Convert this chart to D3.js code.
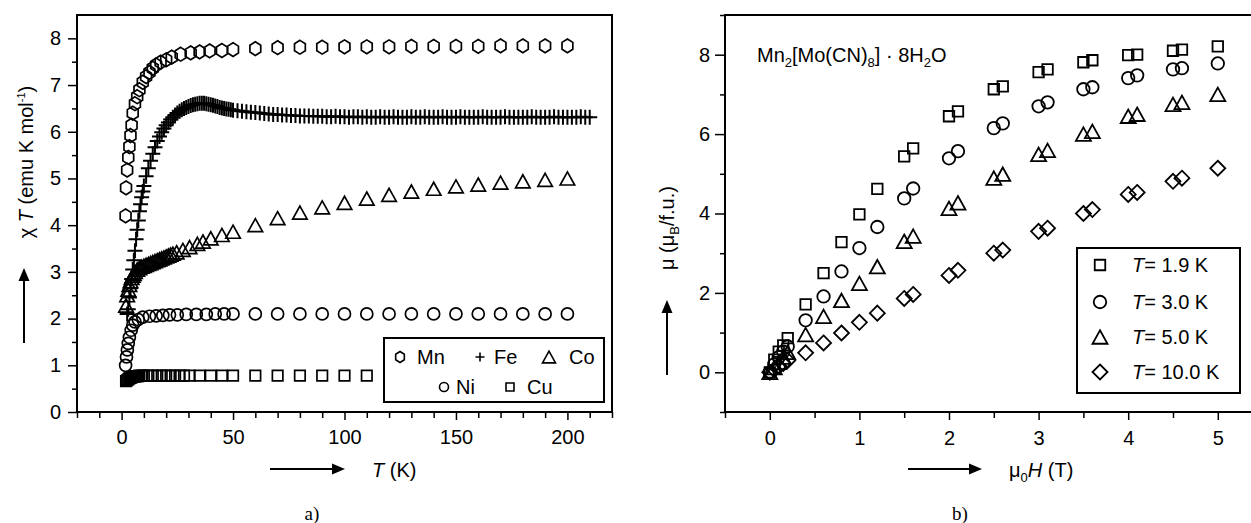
<!DOCTYPE html>
<html>
<head>
<meta charset="utf-8">
<script src="https://cdn.jsdelivr.net/npm/d3@7"></script>
<style>
body { margin: 0; background: #fff; }
svg { display: block; font-family: "Liberation Sans", Arial, sans-serif; }
.axis text { font-size: 20px; fill: #000; font-family: "Liberation Sans", Arial, sans-serif; }
.axis path { display: none; }
.axis line { stroke: #000; stroke-width: 1.5; }
.lbl { font-size: 20px; fill: #000; }
</style>
</head>
<body>
<svg id="chart" width="1251" height="523"></svg>
<script>
// ---- panel a) chi*T vs T ----
var mnT = [1.8, 2.0, 2.5, 3.0, 3.5, 4.0, 4.5, 5.0, 6, 7, 8, 9.5, 11, 12.5, 14, 15.5, 17.5, 20, 22.5, 26.5, 31, 35, 39.5, 45, 50,
           60, 70, 80, 90, 100, 110, 120, 130, 140, 150, 160, 170, 180, 190, 200];
var mnChiT = [4.2, 4.8, 5.18, 5.45, 5.68, 5.92, 6.14, 6.4, 6.6, 6.75, 6.9, 7.06, 7.18, 7.27, 7.36, 7.43, 7.49, 7.54, 7.6, 7.66, 7.69, 7.71, 7.73, 7.74, 7.76,
              7.78, 7.8, 7.81, 7.81, 7.82, 7.82, 7.82, 7.83, 7.83, 7.83, 7.83, 7.84, 7.84, 7.84, 7.84];

var feT = [2.5, 3, 3.5, 4, 4.5, 5, 5.5, 6, 6.5, 7, 7.5, 8, 8.5, 9, 9.5, 10,
           11, 12, 13, 14, 15, 16, 17, 18, 19, 20, 21, 22, 23, 24, 25, 26, 27, 28, 29, 30,
           31, 32, 33, 34, 35, 36, 37, 38, 39, 40, 41, 42, 43, 44, 45, 46, 47, 48, 49, 50,
           52, 54, 56, 58, 60, 62, 64, 66, 68, 70, 72, 74, 76, 78, 80, 82, 84, 86, 88, 90,
           92, 94, 96, 98, 100, 102, 104, 106, 108, 110, 112, 114, 116, 118, 120, 122, 124, 126, 128, 130,
           132, 134, 136, 138, 140, 142, 144, 146, 148, 150, 152, 154, 156, 158, 160, 162, 164, 166, 168, 170,
           172, 174, 176, 178, 180, 182, 184, 186, 188, 190, 192, 194, 196, 198, 200, 202, 204, 206, 208, 210];
var feChiT = [2.1, 2.2, 2.45, 2.65, 2.85, 3.05, 3.25, 3.45, 3.7, 3.9, 4.1, 4.3, 4.45, 4.6, 4.72, 4.84,
              5.05, 5.22, 5.38, 5.53, 5.67, 5.8, 5.9, 5.99, 6.07, 6.14, 6.2, 6.26, 6.31, 6.36, 6.4, 6.44, 6.47, 6.5, 6.52, 6.54,
              6.56, 6.58, 6.59, 6.6, 6.61, 6.61, 6.61, 6.6, 6.59, 6.58, 6.57, 6.55, 6.54, 6.52, 6.51, 6.5, 6.49, 6.48, 6.47, 6.46,
              6.45, 6.44, 6.43, 6.42, 6.41, 6.4, 6.39, 6.38, 6.37, 6.37, 6.36, 6.36, 6.35, 6.35, 6.34, 6.34, 6.34, 6.33, 6.33, 6.33,
              6.32, 6.32, 6.33, 6.32, 6.32, 6.31, 6.32, 6.32, 6.31, 6.32, 6.31, 6.31, 6.32, 6.31, 6.31, 6.32, 6.31, 6.31, 6.31, 6.32,
              6.31, 6.31, 6.32, 6.31, 6.31, 6.31, 6.32, 6.31, 6.31, 6.31, 6.32, 6.31, 6.31, 6.31, 6.31, 6.32, 6.31, 6.31, 6.31, 6.31,
              6.32, 6.31, 6.31, 6.31, 6.31, 6.31, 6.32, 6.31, 6.31, 6.31, 6.31, 6.32, 6.31, 6.31, 6.31, 6.31, 6.31, 6.32, 6.31, 6.31];

var coT = [2, 2.5, 3, 3.5, 4, 4.5, 5, 5.5, 6, 7, 8, 9, 10, 11, 12, 13, 14, 15, 16, 17, 18, 19, 20, 21, 22, 23,
           24.7, 27.5, 30.5, 34, 36.5, 40, 45, 50, 60, 70, 80, 90, 100, 110, 120, 130, 140, 150, 160, 170, 180, 190, 200];
var coChiT = [2.28, 2.5, 2.62, 2.72, 2.8, 2.87, 2.92, 2.96, 3.0, 3.05, 3.08, 3.11, 3.13, 3.15, 3.17, 3.19, 3.21, 3.23, 3.25, 3.27, 3.29, 3.31, 3.33, 3.35, 3.37, 3.39,
              3.42, 3.47, 3.53, 3.6, 3.65, 3.72, 3.79, 3.86, 4.0, 4.15, 4.27, 4.38, 4.48, 4.57, 4.65, 4.72, 4.78, 4.83, 4.87, 4.91, 4.94, 4.97, 5.0];

var niT = [1.8, 2.2, 2.6, 3, 3.5, 4.3, 5, 6, 7.5, 9.5, 12.5, 15.5, 18.5, 21.5, 25, 29, 33.5, 38, 42, 46, 50,
           60, 70, 80, 90, 100, 110, 120, 130, 140, 150, 160, 170, 180, 190, 200];
var niChiT = [1.0, 1.18, 1.33, 1.47, 1.6, 1.75, 1.86, 1.93, 1.98, 2.03, 2.05, 2.06, 2.07, 2.08, 2.08, 2.09, 2.09, 2.09, 2.1, 2.1, 2.1,
              2.1, 2.1, 2.1, 2.1, 2.1, 2.1, 2.1, 2.1, 2.1, 2.1, 2.1, 2.1, 2.1, 2.1, 2.1];

var cuT = [2, 2.5, 3, 3.5, 4, 4.5, 5, 5.5, 6, 6.5, 7, 7.5, 8, 9, 10, 12, 14, 16, 18, 20, 22, 24, 26, 28,
           30.5, 35, 40, 45, 50, 60, 70, 80, 90, 100, 110];
var cuChiT = [0.66, 0.68, 0.7, 0.72, 0.73, 0.74, 0.75, 0.76, 0.76, 0.77, 0.77, 0.77, 0.78, 0.78, 0.78, 0.78, 0.78, 0.78, 0.78, 0.78, 0.78, 0.78, 0.78, 0.78,
              0.78, 0.78, 0.78, 0.78, 0.78, 0.78, 0.78, 0.78, 0.78, 0.78, 0.78];

var legendA = ["Mn", "Fe", "Co", "Ni", "Cu"];

// ---- panel b) mu vs mu0H ----
var fieldH = [0, 0.05, 0.1, 0.15, 0.2, 0.4, 0.6, 0.8, 1.0, 1.2, 1.5, 1.6, 2.0, 2.1, 2.5, 2.6, 3.0, 3.1, 3.5, 3.6, 4.0, 4.1, 4.5, 4.6, 5.0];
var mu19 = [0, 0.32, 0.52, 0.68, 0.86, 1.71, 2.5, 3.28, 3.98, 4.62, 5.44, 5.64, 6.45, 6.57, 7.13, 7.2, 7.56, 7.63, 7.81, 7.86, 7.99, 8.0, 8.1, 8.13, 8.21];
var mu30 = [0, 0.2, 0.38, 0.52, 0.65, 1.31, 1.91, 2.54, 3.13, 3.66, 4.38, 4.63, 5.39, 5.57, 6.15, 6.27, 6.7, 6.8, 7.13, 7.18, 7.41, 7.48, 7.63, 7.66, 7.78];
var mu50 = [0, 0.12, 0.25, 0.38, 0.5, 0.95, 1.41, 1.81, 2.24, 2.66, 3.3, 3.43, 4.13, 4.27, 4.89, 4.99, 5.49, 5.59, 6.0, 6.07, 6.45, 6.5, 6.75, 6.8, 7.0];
var mu100 = [0, 0.07, 0.15, 0.22, 0.3, 0.49, 0.74, 0.99, 1.26, 1.49, 1.86, 1.96, 2.44, 2.57, 3.0, 3.08, 3.55, 3.63, 4.0, 4.1, 4.48, 4.53, 4.81, 4.89, 5.14];
var legendB = ["1.9", "3.0", "5.0", "10.0"];

var svg = d3.select("#chart");
svg.append("rect").attr("width", 1251).attr("height", 523).attr("fill", "#fff");

// marker shapes, centred on 0,0
function shape(type, s) {
    var r = s / 2, p = [];
    if (type === "hex") {
        for (var k = 0; k < 6; k++) {
            var a = (-90 + 60 * k) * Math.PI / 180;
            p.push([r * Math.cos(a), r * 1.1 * Math.sin(a)]);
        }
        return "M" + p.join("L") + "Z";
    }
    if (type === "cross") return "M" + (-r) + ",0H" + r + "M0," + (-r) + "V" + r;
    if (type === "tri") return "M0," + (-r * 0.9) + "L" + r + "," + (r * 0.9) + "L" + (-r) + "," + (r * 0.9) + "Z";
    if (type === "square") return "M" + (-r) + "," + (-r) + "H" + r + "V" + r + "H" + (-r) + "Z";
    if (type === "diamond") return "M0," + (-r) + "L" + r + ",0L0," + r + "L" + (-r) + ",0Z";
    return d3.arc()({ innerRadius: 0, outerRadius: r, startAngle: 0, endAngle: 2 * Math.PI });
}

function drawSeries(g, xs, ys, sx, sy, type, size, sw) {
    g.append("g").selectAll("path")
        .data(xs.map(function(x, i) { return [x, ys[i]]; }))
        .enter()
        .append("path")
        .attr("d", shape(type, size))
        .attr("transform", function(d) { return "translate(" + sx(d[0]) + "," + sy(d[1]) + ")"; })
        .attr("fill", "none")
        .attr("stroke", "#000")
        .attr("stroke-width", sw);
}

function arrow(g, x1, y1, x2, y2) {
    var ang = Math.atan2(y2 - y1, x2 - x1);
    var L = 13, W = 5.5;
    var bx = x2 - L * Math.cos(ang), by = y2 - L * Math.sin(ang);
    g.append("line").attr("x1", x1).attr("y1", y1).attr("x2", bx).attr("y2", by)
        .attr("stroke", "#000").attr("stroke-width", 2);
    g.append("path")
        .attr("d", "M" + x2 + "," + y2 +
            "L" + (bx - W * Math.sin(ang)) + "," + (by + W * Math.cos(ang)) +
            "L" + (bx + W * Math.sin(ang)) + "," + (by - W * Math.cos(ang)) + "Z")
        .attr("fill", "#000");
}

// ================= panel a =================
var xA = d3.scaleLinear().domain([-20, 220]).range([77, 612]);
var yA = d3.scaleLinear().domain([0, 8.5]).range([412, 15]);
var gA = svg.append("g");

var xAMajor = [0, 50, 100, 150, 200];
var xAMinor = d3.range(-20, 221, 10).filter(function(v) { return v % 50 !== 0; });
var yAMajor = d3.range(0, 9, 1);
var yAMinor = d3.range(0.5, 8.5, 1);

gA.append("g").attr("class", "axis").attr("transform", "translate(0,412)")
    .call(d3.axisBottom(xA).tickValues(xAMajor).tickSize(8).tickPadding(10).tickFormat(d3.format("d")));
gA.append("g").attr("class", "axis").attr("transform", "translate(0,412)")
    .call(d3.axisBottom(xA).tickValues(xAMinor).tickSize(6).tickFormat(""));
gA.append("g").attr("class", "axis").attr("transform", "translate(77,0)")
    .call(d3.axisLeft(yA).tickValues(yAMajor).tickSize(9).tickPadding(7).tickFormat(d3.format("d")));
gA.append("g").attr("class", "axis").attr("transform", "translate(77,0)")
    .call(d3.axisLeft(yA).tickValues(yAMinor).tickSize(5).tickFormat(""));
gA.append("rect").attr("x", 77).attr("y", 15).attr("width", 535).attr("height", 397)
    .attr("fill", "none").attr("stroke", "#000").attr("stroke-width", 2);

drawSeries(gA, mnT, mnChiT, xA, yA, "hex", 12.5, 1.7);
drawSeries(gA, feT, feChiT, xA, yA, "cross", 15, 2);
drawSeries(gA, coT, coChiT, xA, yA, "tri", 14.5, 1.7);
drawSeries(gA, niT, niChiT, xA, yA, "circle", 12, 1.7);
drawSeries(gA, cuT, cuChiT, xA, yA, "square", 10.5, 1.7);

// legend a
gA.append("rect").attr("x", 384).attr("y", 338).attr("width", 220).attr("height", 64)
    .attr("fill", "#fff").attr("stroke", "#000").attr("stroke-width", 2);
var legA = [
    { t: "hex", s: 10, x: 400, y: 357, tx: 417 },
    { t: "cross", s: 9, x: 480, y: 357, tx: 494 },
    { t: "tri", s: 13, x: 549, y: 357, tx: 569 },
    { t: "circle", s: 9, x: 444, y: 387, tx: 456 },
    { t: "square", s: 8, x: 510, y: 387, tx: 527 }
];
legA.forEach(function(d, i) {
    gA.append("path").attr("d", shape(d.t, d.s)).attr("transform", "translate(" + d.x + "," + d.y + ")")
        .attr("fill", "none").attr("stroke", "#000").attr("stroke-width", 1.6);
    gA.append("text").attr("class", "lbl").attr("x", d.tx).attr("y", d.y + 7).text(legendA[i]);
});

// axis titles a
var ytA = gA.append("text").attr("class", "lbl").attr("font-size", "18px").attr("text-anchor", "middle")
    .attr("transform", "translate(33,162) rotate(-90)");
ytA.append("tspan").text("\u03c7 ");
ytA.append("tspan").attr("font-style", "italic").text("T");
ytA.append("tspan").text(" (emu K mol");
ytA.append("tspan").attr("font-size", "11px").attr("dy", -8).text("-1");
ytA.append("tspan").attr("dy", 8).text(")");
arrow(gA, 24, 343, 24, 268);

arrow(gA, 270, 469, 345, 469);
var xtA = gA.append("text").attr("class", "lbl").attr("x", 372).attr("y", 477);
xtA.append("tspan").attr("font-style", "italic").text("T");
xtA.append("tspan").text(" (K)");
gA.append("text").attr("x", 312).attr("y", 520).attr("text-anchor", "middle")
    .attr("font-family", "'Liberation Serif', 'Times New Roman', serif").attr("font-size", "19px").text("a)");

// ================= panel b =================
var xB = d3.scaleLinear().domain([-0.5, 5.5]).range([725, 1262.6]);
var yB = d3.scaleLinear().domain([-1, 9]).range([412, 15]);
var gB = svg.append("g");

var xBMajor = d3.range(0, 6, 1);
var xBMinor = d3.range(-0.5, 5.6, 1);
var yBMajor = [0, 2, 4, 6, 8];
var yBMinor = [-1, 1, 3, 5, 7, 9];

gB.append("g").attr("class", "axis").attr("transform", "translate(0,412)")
    .call(d3.axisBottom(xB).tickValues(xBMajor).tickSize(8).tickPadding(11).tickFormat(d3.format("d")));
gB.append("g").attr("class", "axis").attr("transform", "translate(0,412)")
    .call(d3.axisBottom(xB).tickValues(xBMinor).tickSize(6).tickFormat(""));
gB.append("g").attr("class", "axis").attr("transform", "translate(725,0)")
    .call(d3.axisLeft(yB).tickValues(yBMajor).tickSize(10).tickPadding(5).tickFormat(d3.format("d")));
gB.append("g").attr("class", "axis").attr("transform", "translate(725,0)")
    .call(d3.axisLeft(yB).tickValues(yBMinor).tickSize(5).tickFormat(""));
gB.append("rect").attr("x", 725).attr("y", 15).attr("width", 537.6).attr("height", 397)
    .attr("fill", "none").attr("stroke", "#000").attr("stroke-width", 2);

drawSeries(gB, fieldH, mu100, xB, yB, "diamond", 15, 1.8);
drawSeries(gB, fieldH, mu50, xB, yB, "tri", 15, 1.8);
drawSeries(gB, fieldH, mu30, xB, yB, "circle", 12.5, 1.8);
drawSeries(gB, fieldH, mu19, xB, yB, "square", 10.5, 1.8);

// compound title
var tt = gB.append("text").attr("class", "lbl").attr("x", 757).attr("y", 62);
tt.append("tspan").text("Mn");
tt.append("tspan").attr("font-size", "13px").attr("dy", 5).text("2");
tt.append("tspan").attr("dy", -5).text("[Mo(CN)");
tt.append("tspan").attr("font-size", "13px").attr("dy", 5).text("8");
tt.append("tspan").attr("dy", -5).text("] \u00b7 8H");
tt.append("tspan").attr("font-size", "13px").attr("dy", 5).text("2");
tt.append("tspan").attr("dy", -5).text("O");

// legend b
gB.append("rect").attr("x", 1077).attr("y", 248).attr("width", 163).attr("height", 145)
    .attr("fill", "#fff").attr("stroke", "#000").attr("stroke-width", 2);
var legB = [
    { t: "square", s: 10.5, y: 265 },
    { t: "circle", s: 12.5, y: 302 },
    { t: "tri", s: 15, y: 337 },
    { t: "diamond", s: 15, y: 372 }
];
legB.forEach(function(d, i) {
    gB.append("path").attr("d", shape(d.t, d.s)).attr("transform", "translate(1100," + d.y + ")")
        .attr("fill", "none").attr("stroke", "#000").attr("stroke-width", 1.8);
    var t = gB.append("text").attr("class", "lbl").attr("x", 1132).attr("y", d.y + 7);
    t.append("tspan").attr("font-style", "italic").text("T");
    t.append("tspan").text("= " + legendB[i] + " K");
});

// axis titles b
var ytB = gB.append("text").attr("class", "lbl").attr("text-anchor", "middle")
    .attr("transform", "translate(674,228) rotate(-90)");
ytB.append("tspan").text("\u03bc (\u03bc");
ytB.append("tspan").attr("font-size", "13px").attr("dy", 5).text("B");
ytB.append("tspan").attr("dy", -5).text("/f.u.)");
arrow(gB, 667, 375, 667, 300);

arrow(gB, 908, 469, 982, 469);
var xtB = gB.append("text").attr("class", "lbl").attr("x", 1009).attr("y", 477);
xtB.append("tspan").text("\u03bc");
xtB.append("tspan").attr("font-size", "13px").attr("dy", 5).text("0");
xtB.append("tspan").attr("dy", -5).attr("font-style", "italic").text("H");
xtB.append("tspan").text(" (T)");
gB.append("text").attr("x", 960).attr("y", 520).attr("text-anchor", "middle")
    .attr("font-family", "'Liberation Serif', 'Times New Roman', serif").attr("font-size", "19px").text("b)");
</script>
</body>
</html>
